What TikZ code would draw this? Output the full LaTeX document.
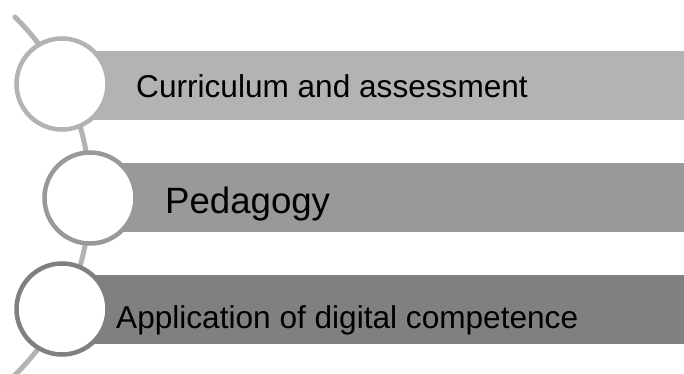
\documentclass[tikz,border=0pt]{standalone}
\usepackage{fontspec}
\setmainfont{Liberation Sans}
\definecolor{gA}{HTML}{B3B3B3}
\definecolor{gB}{HTML}{999999}
\definecolor{gC}{HTML}{808080}
\begin{document}
\begin{tikzpicture}[x=1pt,y=-1pt,
  bar/.style={draw=none,rectangle,anchor=west,minimum width=622pt,minimum height=69pt,inner sep=0pt},
  circ/.style={circle,fill=white,line width=4.5pt,minimum size=91pt,inner sep=0pt},
  lbl/.style={anchor=base west,inner sep=0pt,text=black,font=\fontsize{31.6}{38}\selectfont}]
\useasboundingbox (0,0) rectangle (684,374);
\clip (0,0) rectangle (684,374);
\fill[white] (0,0) rectangle (684,374);
% guiding arc
\draw[gA,line width=5pt,line cap=round] plot[domain=-45.5:50,samples=80,smooth] ({-161+251*cos(\x)},{196+251*sin(\x)});
% bars
\node[bar,fill=gA] (b1) at (62,85.5) {};
\node[bar,fill=gB] (b2) at (90,197.5) {};
\node[bar,fill=gC] (b3) at (62,309.5) {};
% circles
\node[circ,draw=gA] (c1) at (62,84) {};
\node[circ,draw=gB] (c2) at (90,198) {};
\node[circ,draw=gC] (c3) at (62,309) {};
% labels
\node[lbl] (t1) at (136,98) {Curriculum and assessment};
\node[lbl,font=\fontsize{36.6}{44}\selectfont] (t2) at (165,213) {Pedagogy};
\node[lbl] (t3) at (116,328) {Application of digital competence};
\end{tikzpicture}
\end{document}
